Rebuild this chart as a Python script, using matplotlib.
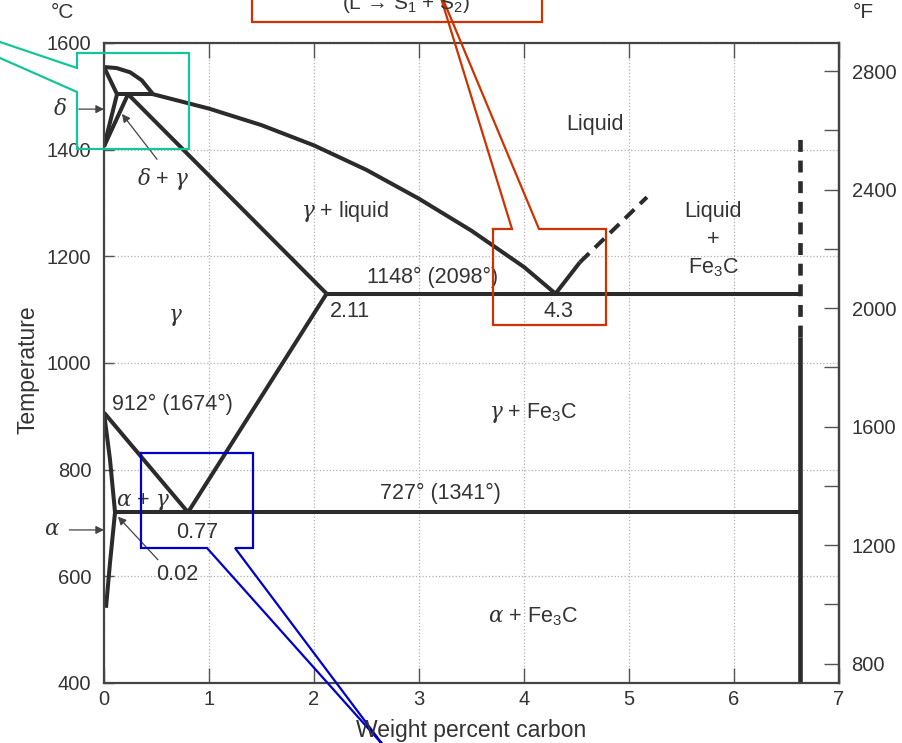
import numpy as np
import matplotlib
matplotlib.use("Agg")
import matplotlib.pyplot as plt
from matplotlib.lines import Line2D

plt.rcParams['font.family'] = ['Liberation Sans', 'DejaVu Sans']
plt.rcParams['mathtext.fontset'] = 'custom'
plt.rcParams['mathtext.rm'] = 'Liberation Sans'
plt.rcParams['mathtext.it'] = 'DejaVu Serif:italic'

INK = '#2b2b2b'
TXT = '#333333'

# ---- phase boundaries (wt% C, deg C) ----
liq_x = [0.0, 0.12, 0.25, 0.36, 0.467, 1.0, 1.5, 2.0, 2.5, 3.0, 3.5, 4.0, 4.3]
liq_T = [1555, 1553, 1545, 1530, 1504, 1477, 1446, 1408, 1362, 1308, 1248, 1180, 1130]

delta_sol_x, delta_sol_T = [0.0, 0.124], [1555, 1504]
delta_solv_x, delta_solv_T = [0.124, 0.0], [1504, 1406]
gam_delta_x, gam_delta_T = [0.229, 0.0], [1504, 1406]
perit_x, perit_T = [0.124, 0.467], [1504, 1504]
solidus_x, solidus_T = [0.229, 2.12], [1504, 1130]
eutectic_x, eutectic_T = [2.12, 6.63], [1130, 1130]
cem_liq_x, cem_liq_T = [4.30, 4.533], [1130, 1189]
cem_liq_dash_x, cem_liq_dash_T = [4.533, 5.171], [1189, 1311]
acm_x, acm_T = [0.80, 2.12], [720, 1130]
a3_x, a3_T = [0.0, 0.80], [907, 720]
alpha_x = [0.0, 0.057, 0.105, 0.057, 0.019]
alpha_T = [907, 819, 720, 625, 541]
eutectoid_x, eutectoid_T = [0.105, 6.63], [720, 720]
cem_x = [6.63, 6.63]
cem_T = [400, 1048]
cem_dash_T = [1048, 1433]

x_ticks = [0, 1, 2, 3, 4, 5, 6, 7]
c_ticks = [400, 600, 800, 1000, 1200, 1400, 1600]
f_major = [800, 1200, 1600, 2000, 2400, 2800]
f_minor = [1000, 1400, 1800, 2200, 2600]

fig = plt.figure(figsize=(9.02, 7.43), dpi=100)
ax = fig.add_axes([104 / 902, 1 - 683 / 743, 735 / 902, 640 / 743])
ax.set_xlim(0, 7)
ax.set_ylim(400, 1600)

ax.grid(True, ls=':', color='#b0b0b0', lw=0.9)
ax.set_axisbelow(True)

lw = 2.9
for xs, ts in [(liq_x, liq_T), (delta_sol_x, delta_sol_T), (delta_solv_x, delta_solv_T),
               (gam_delta_x, gam_delta_T), (perit_x, perit_T), (solidus_x, solidus_T),
               (eutectic_x, eutectic_T), (cem_liq_x, cem_liq_T), (acm_x, acm_T),
               (a3_x, a3_T), (alpha_x, alpha_T), (eutectoid_x, eutectoid_T)]:
    ax.plot(xs, ts, color=INK, lw=lw, solid_capstyle='butt', solid_joinstyle='round')
ax.plot(cem_liq_dash_x, cem_liq_dash_T, color=INK, lw=lw, dashes=(3.2, 2.0))
ax.plot(cem_x, cem_T, color=INK, lw=3.3, solid_capstyle='butt')
ax.plot(cem_x, cem_dash_T, color=INK, lw=3.3, dashes=(2.6, 1.9))

# ticks and spines
for s in ax.spines.values():
    s.set_color('#444444')
    s.set_linewidth(1.6)
ax.set_xticks(x_ticks)
ax.set_yticks(c_ticks)
ax.tick_params(axis='x', direction='in', length=11, width=1.0, color='#555555',
               top=True, labelsize=14.5, labelcolor=TXT, pad=5)
ax.tick_params(axis='y', direction='in', length=7, width=1.0, color='#555555',
               labelsize=14.5, labelcolor=TXT, pad=9)

sec = ax.secondary_yaxis('right', functions=(lambda c: c * 1.8 + 15,
                                             lambda f: (f - 15) / 1.8))
sec.set_yticks(f_major)
sec.set_yticks(f_minor, minor=True)
sec.tick_params(which='both', direction='in', length=11, width=1.0, color='#555555',
                labelsize=14.5, labelcolor=TXT, pad=9)
sec.spines['right'].set_color('#444444')
sec.spines['right'].set_linewidth(1.6)

fig.text(471 / 902, 1 - 731 / 743, 'Weight percent carbon', fontsize=16.5, color=TXT,
         ha='center', va='center')
fig.text(28 / 902, 1 - 370 / 743, 'Temperature', fontsize=16.5, color=TXT,
         ha='center', va='center', rotation=90)
fig.text(62 / 902, 1 - 13 / 743, '°C', fontsize=15, color=TXT, ha='center', va='center')
fig.text(863 / 902, 1 - 13 / 743, '°F', fontsize=15, color=TXT, ha='center', va='center')

# region labels
fs = 15.5
labels = [
    (4.676, 1448, 'Liquid'),
    (2.295, 1285, r'$\gamma$ + liquid'),
    (5.80, 1285, 'Liquid'),
    (5.80, 1232, '+'),
    (5.80, 1179, r'Fe$_{\mathrm{3}}$C'),
    (3.133, 1161, '1148° (2098°)'),
    (2.343, 1097, '2.11'),
    (4.324, 1097, '4.3'),
    (0.676, 1085, r'$\gamma$'),
    (0.648, 922, '912° (1674°)'),
    (4.086, 907, r'$\gamma$ + Fe$_{\mathrm{3}}$C'),
    (3.20, 755, '727° (1341°)'),
    (0.371, 740, r'$\alpha$ + $\gamma$'),
    (0.886, 682, '0.77'),
    (0.695, 603, '0.02'),
    (4.086, 524, r'$\alpha$ + Fe$_{\mathrm{3}}$C'),
    (0.562, 1345, r'$\delta$ + $\gamma$'),
    (-0.419, 1476, r'$\delta$'),
    (-0.495, 687, r'$\alpha$'),
]
for x, t, s in labels:
    ax.text(x, t, s, fontsize=fs, color=TXT, ha='center', va='center', clip_on=False)

arrow_kw = dict(arrowstyle='-|>', color='#444444', lw=0.9, mutation_scale=12,
                shrinkA=0, shrinkB=0)
ax.annotate('', xy=(0, 1476), xytext=(-0.24, 1476), arrowprops=arrow_kw, annotation_clip=False)
ax.annotate('', xy=(0, 687), xytext=(-0.33, 687), arrowprops=arrow_kw, annotation_clip=False)
ax.annotate('', xy=(0.171, 1467), xytext=(0.505, 1382), arrowprops=arrow_kw)
ax.annotate('', xy=(0.133, 712), xytext=(0.514, 631), arrowprops=arrow_kw)


# ---- callout outlines, in picture pixels ----
def P(pts):
    return [p[0] / 902 for p in pts], [1 - p[1] / 743 for p in pts]


def outline(pts, color):
    xs, ys = P(pts)
    fig.add_artist(Line2D(xs, ys, color=color, lw=1.6, transform=fig.transFigure,
                          solid_joinstyle='miter'))


teal, red, blue = '#14c59a', '#cc3300', '#0000cc'
outline([(-154, -10), (77, 68), (77, 53), (189, 53), (189, 149), (77, 149), (77, 92),
         (-154, -10)], teal)
outline([(252, -20), (252, 22), (542, 22), (542, -20)], red)
outline([(493, 229), (512, 229), (437, -15), (539, 229), (606, 229), (606, 325),
         (493, 325), (493, 229)], red)
outline([(141, 453), (253, 453), (253, 548), (235, 548), (383, 745), (207, 548),
         (141, 548), (141, 453)], blue)
fig.text(406 / 902, 1 - 9 / 743, '(L → S$_{\\mathrm{1}}$ + S$_{\\mathrm{2}}$)',
         fontsize=15, color=TXT, ha='center', va='baseline')

fig.savefig('out.png', dpi=100)
